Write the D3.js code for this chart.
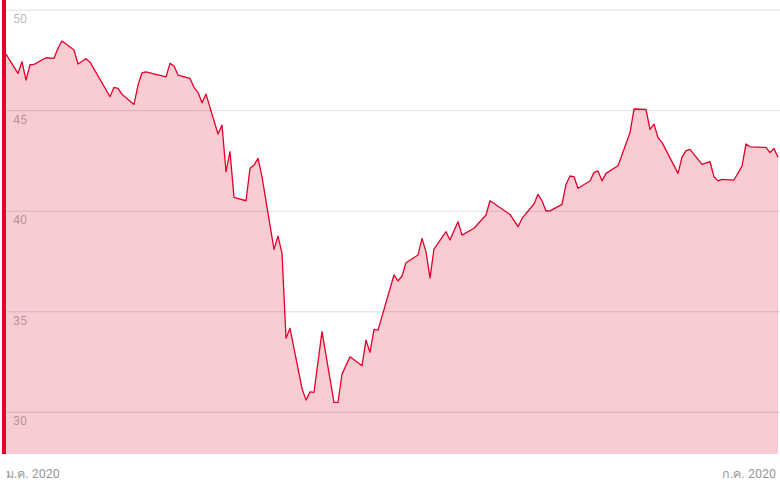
<!DOCTYPE html>
<html>
<head>
<meta charset="utf-8">
<script src="https://cdn.jsdelivr.net/npm/d3@7"></script>
<style>
  body { margin: 0; background: #fff; }
  text { font-family: Roboto, "DejaVu Sans", sans-serif; }
</style>
</head>
<body>
<div id="chart"></div>
<script>
// DATOS

const dates = [
  "2020-01-02","2020-01-05","2020-01-06","2020-01-07","2020-01-08","2020-01-09","2020-01-12","2020-01-14","2020-01-15","2020-01-16",
  "2020-01-19","2020-01-20","2020-01-22","2020-01-23","2020-01-28","2020-01-29","2020-01-30","2020-01-31",
  "2020-02-03","2020-02-04","2020-02-05","2020-02-06","2020-02-11","2020-02-12","2020-02-13","2020-02-14","2020-02-17","2020-02-18",
  "2020-02-19","2020-02-20","2020-02-21","2020-02-24","2020-02-25","2020-02-26","2020-02-27","2020-02-28",
  "2020-03-02","2020-03-03","2020-03-04","2020-03-05","2020-03-06","2020-03-09","2020-03-10","2020-03-11","2020-03-12","2020-03-13",
  "2020-03-16","2020-03-17","2020-03-18","2020-03-19","2020-03-21","2020-03-24","2020-03-25","2020-03-26","2020-03-28","2020-03-31",
  "2020-04-01","2020-04-02","2020-04-03","2020-04-04","2020-04-08","2020-04-09","2020-04-10","2020-04-11","2020-04-14","2020-04-15",
  "2020-04-16","2020-04-17","2020-04-18","2020-04-21","2020-04-22","2020-04-24","2020-04-25","2020-04-28",
  "2020-05-01","2020-05-02","2020-05-07","2020-05-09","2020-05-10","2020-05-13","2020-05-14","2020-05-15","2020-05-16","2020-05-17",
  "2020-05-20","2020-05-21","2020-05-22","2020-05-23","2020-05-24","2020-05-27","2020-05-28","2020-05-29","2020-05-30","2020-05-31",
  "2020-06-03","2020-06-06","2020-06-07","2020-06-10","2020-06-11","2020-06-12","2020-06-13","2020-06-14","2020-06-18","2020-06-19",
  "2020-06-20","2020-06-21","2020-06-24","2020-06-26","2020-06-27","2020-06-28","2020-06-29",
  "2020-07-02","2020-07-04","2020-07-05","2020-07-06","2020-07-10","2020-07-11","2020-07-12","2020-07-13"
]

const values = [
  47.81,46.85,47.43,46.52,47.28,47.30,47.63,47.60,48.10,48.46,
  48.01,47.32,47.58,47.41,45.69,46.16,46.11,45.81,
  45.31,46.27,46.88,46.93,46.68,47.35,47.22,46.77,46.60,46.16,
  45.91,45.39,45.82,43.84,44.28,41.96,42.96,40.69,
  40.52,42.13,42.29,42.63,41.71,38.10,38.76,37.90,33.68,34.18,
  31.19,30.61,31.02,30.99,34.01,30.50,30.50,31.90,32.76,32.32,
  33.59,32.98,34.13,34.09,36.83,36.54,36.78,37.44,37.82,38.65,
  37.98,36.69,38.12,38.98,38.57,39.48,38.81,39.15,
  39.81,40.52,39.84,39.23,39.64,40.36,40.84,40.52,40.01,40.02,
  40.34,41.33,41.75,41.71,41.14,41.50,41.93,42.00,41.51,41.88,
  42.26,43.90,45.08,45.06,44.07,44.33,43.65,43.42,41.88,42.69,
  43.01,43.07,42.33,42.46,41.71,41.51,41.58,
  41.55,42.24,43.34,43.20,43.17,42.91,43.12,42.68
]

const yTicks = [30, 35, 40, 45, 50]
const xLabels = ["ม.ค. 2020", "ก.ค. 2020"]

// CONSTANTES

const width = 780
const height = 489
const plotLeft = 6
const plotBottom = 454
const red = "#e4002b"

const parseDate = d3.timeParse("%Y-%m-%d")
const data = dates.map((d, i) => ({ date: parseDate(d), value: values[i] }))

// SVG

const svg = d3.select("#chart").append("svg")
  .attr("width", width).attr("height", height)

// ESCALAS

const x = d3.scaleTime()
  .domain(d3.extent(data, d => d.date))
  .range([plotLeft, width - 2])
const y = d3.scaleLinear()
  .domain([27.93, 50.5])
  .range([plotBottom, 0])

// AREA Y LINEA

svg.append("path").datum(data)
  .attr("fill", "#f9ccd3")
  .attr("d", d3.area().x(d => x(d.date)).y0(plotBottom).y1(d => y(d.value)))

svg.append("path").datum(data)
  .attr("fill", "none")
  .attr("stroke", red)
  .attr("stroke-width", 1.3)
  .attr("stroke-linejoin", "round")
  .attr("d", d3.line().x(d => x(d.date)).y(d => y(d.value)))

// REJILLA Y EJE Y

const grid = svg.append("g").selectAll("g").data(yTicks).enter().append("g")
grid.append("line")
  .attr("x1", plotLeft).attr("x2", width)
  .attr("y1", d => y(d)).attr("y2", d => y(d))
  .attr("stroke", "rgba(0,0,0,0.13)")
  .attr("stroke-width", 1)
grid.append("text")
  .attr("x", 13).attr("y", d => y(d) + 13)
  .attr("font-size", 12.5)
  .attr("fill", "rgba(0,0,0,0.3)")
  .text(d => d)

// BARRA ROJA

svg.append("rect")
  .attr("x", 2).attr("y", 0)
  .attr("width", 4).attr("height", plotBottom)
  .attr("fill", red)

// EJE X

svg.append("text")
  .attr("x", plotLeft).attr("y", 478)
  .attr("font-size", 12.5).attr("fill", "#999")
  .text(xLabels[0])
svg.append("text")
  .attr("x", 776).attr("y", 478)
  .attr("text-anchor", "end")
  .attr("font-size", 12.5).attr("fill", "#999")
  .text(xLabels[1])
</script>
</body>
</html>
